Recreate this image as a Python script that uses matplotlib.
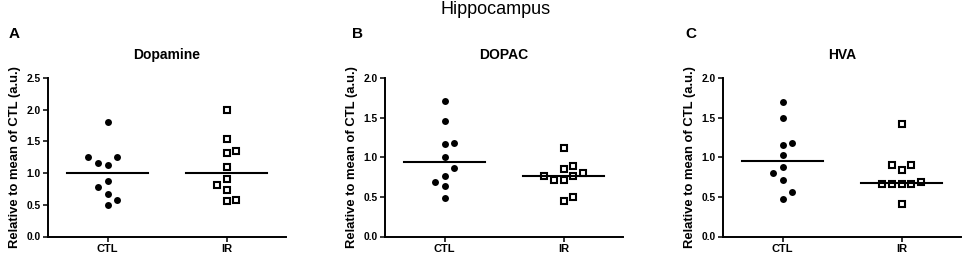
import numpy as np
import matplotlib
matplotlib.use('Agg')
import matplotlib.pyplot as plt

plt.rcParams['font.family'] = ['Liberation Sans', 'DejaVu Sans']
plt.rcParams['font.weight'] = 'bold'
plt.rcParams['axes.labelweight'] = 'bold'
plt.rcParams['axes.titleweight'] = 'bold'

# data (relative to mean of CTL, a.u.)
groups = ['CTL', 'IR']
titles = ['Dopamine', 'DOPAC', 'HVA']
letters = ['A', 'B', 'C']
ymax = [2.5, 2.0, 2.0]

dopamine_ctl = [1.81, 1.26, 1.25, 1.155, 1.13, 0.87, 0.785, 0.67, 0.58, 0.50]
dopamine_ir = [2.00, 1.545, 1.31, 1.345, 1.10, 0.905, 0.81, 0.73, 0.56, 0.575]
dopac_ctl = [1.714, 1.462, 1.172, 1.185, 1.004, 0.87, 0.765, 0.685, 0.634, 0.487]
dopac_ir = [1.118, 0.849, 0.887, 0.807, 0.769, 0.769, 0.714, 0.714, 0.496, 0.45]
hva_ctl = [1.697, 1.499, 1.154, 1.175, 1.027, 0.872, 0.80, 0.716, 0.564, 0.476]
hva_ir = [1.415, 0.905, 0.905, 0.838, 0.665, 0.657, 0.657, 0.665, 0.69, 0.408]

# scatter columns (dot-plot spreading), in slots
dopamine_ctl_slot = [0, -2, 1, -1, 0, 0, -1, 0, 1, 0]
dopamine_ir_slot = [0, 0, 0, 1, 0, 0, -1, 0, 0, 1]
dopac_ctl_slot = [0, 0, 0, 1, 0, 1, 0, -1, 0, 0]
dopac_ir_slot = [0, 0, 1, 2, -2, 1, -1, 0, 1, 0]
hva_ctl_slot = [0, 0, 0, 1, 0, 0, -1, 0, 1, 0]
hva_ir_slot = [0, -1, 1, 0, -2, -1, 0, 1, 2, 0]

panels = [
    (dopamine_ctl, dopamine_ir, dopamine_ctl_slot, dopamine_ir_slot),
    (dopac_ctl, dopac_ir, dopac_ctl_slot, dopac_ir_slot),
    (hva_ctl, hva_ir, hva_ctl_slot, hva_ir_slot),
]

W, H = 964, 254
fig = plt.figure(figsize=(W / 100, H / 100), dpi=100)

ax_left = [48, 385, 723]
ax_w = 238
ax_top = 78
ax_bot = 236.5
slot_w = 0.081
half_line = 0.34

for i, (ctl, ir, s_ctl, s_ir) in enumerate(panels):
    ax = fig.add_axes([ax_left[i] / W, (H - ax_bot) / H, ax_w / W, (ax_bot - ax_top) / H])
    # CTL filled circles
    ax.plot(0 + np.array(s_ctl) * slot_w, ctl, 'o', ms=5.0, color='black', mec='black', mew=0, clip_on=False)
    # IR open squares
    ax.plot(1 + np.array(s_ir) * slot_w, ir, 's', ms=3.9, mfc='white', mec='black', mew=1.5, clip_on=False)
    # median lines
    for x, vals in [(0, ctl), (1, ir)]:
        m = np.median(vals)
        ax.plot([x - half_line, x + half_line], [m, m], color='black', lw=1.5)

    ax.set_xlim(-0.5, 1.5)
    ax.set_ylim(0, ymax[i])
    ticks = np.arange(0, ymax[i] + 0.01, 0.5)
    ax.set_yticks(ticks)
    ax.set_yticklabels(['{:.1f}'.format(v) for v in ticks])
    ax.set_xticks([0, 1])
    ax.set_xticklabels(groups)
    ax.spines['top'].set_visible(False)
    ax.spines['right'].set_visible(False)
    for sp in ['left', 'bottom']:
        ax.spines[sp].set_linewidth(1.4)
    ax.tick_params(axis='both', length=3.6, width=1.1, pad=1.5)
    for lab in ax.get_yticklabels():
        lab.set_fontsize(7.4)
        lab.set_fontweight('bold')
    for lab in ax.get_xticklabels():
        lab.set_fontsize(8)
        lab.set_fontweight('bold')
    ax.set_ylabel('Relative to mean of CTL (a.u.)', fontsize=9.4, fontweight='bold')
    ax.yaxis.set_label_coords(-27 / ax_w, 0.5)
    ax.set_title(titles[i], fontsize=10, fontweight='bold', pad=13.5)

    lx = [9, 352, 685][i]
    fig.text(lx / W, 1 - 38 / H, letters[i], fontsize=11, fontweight='bold', va='baseline', ha='left')

fig.text(496 / W, 1 - 1 / H, 'Hippocampus', fontsize=13, fontweight='normal', ha='center', va='top')

fig.savefig('out.png', dpi=100)
